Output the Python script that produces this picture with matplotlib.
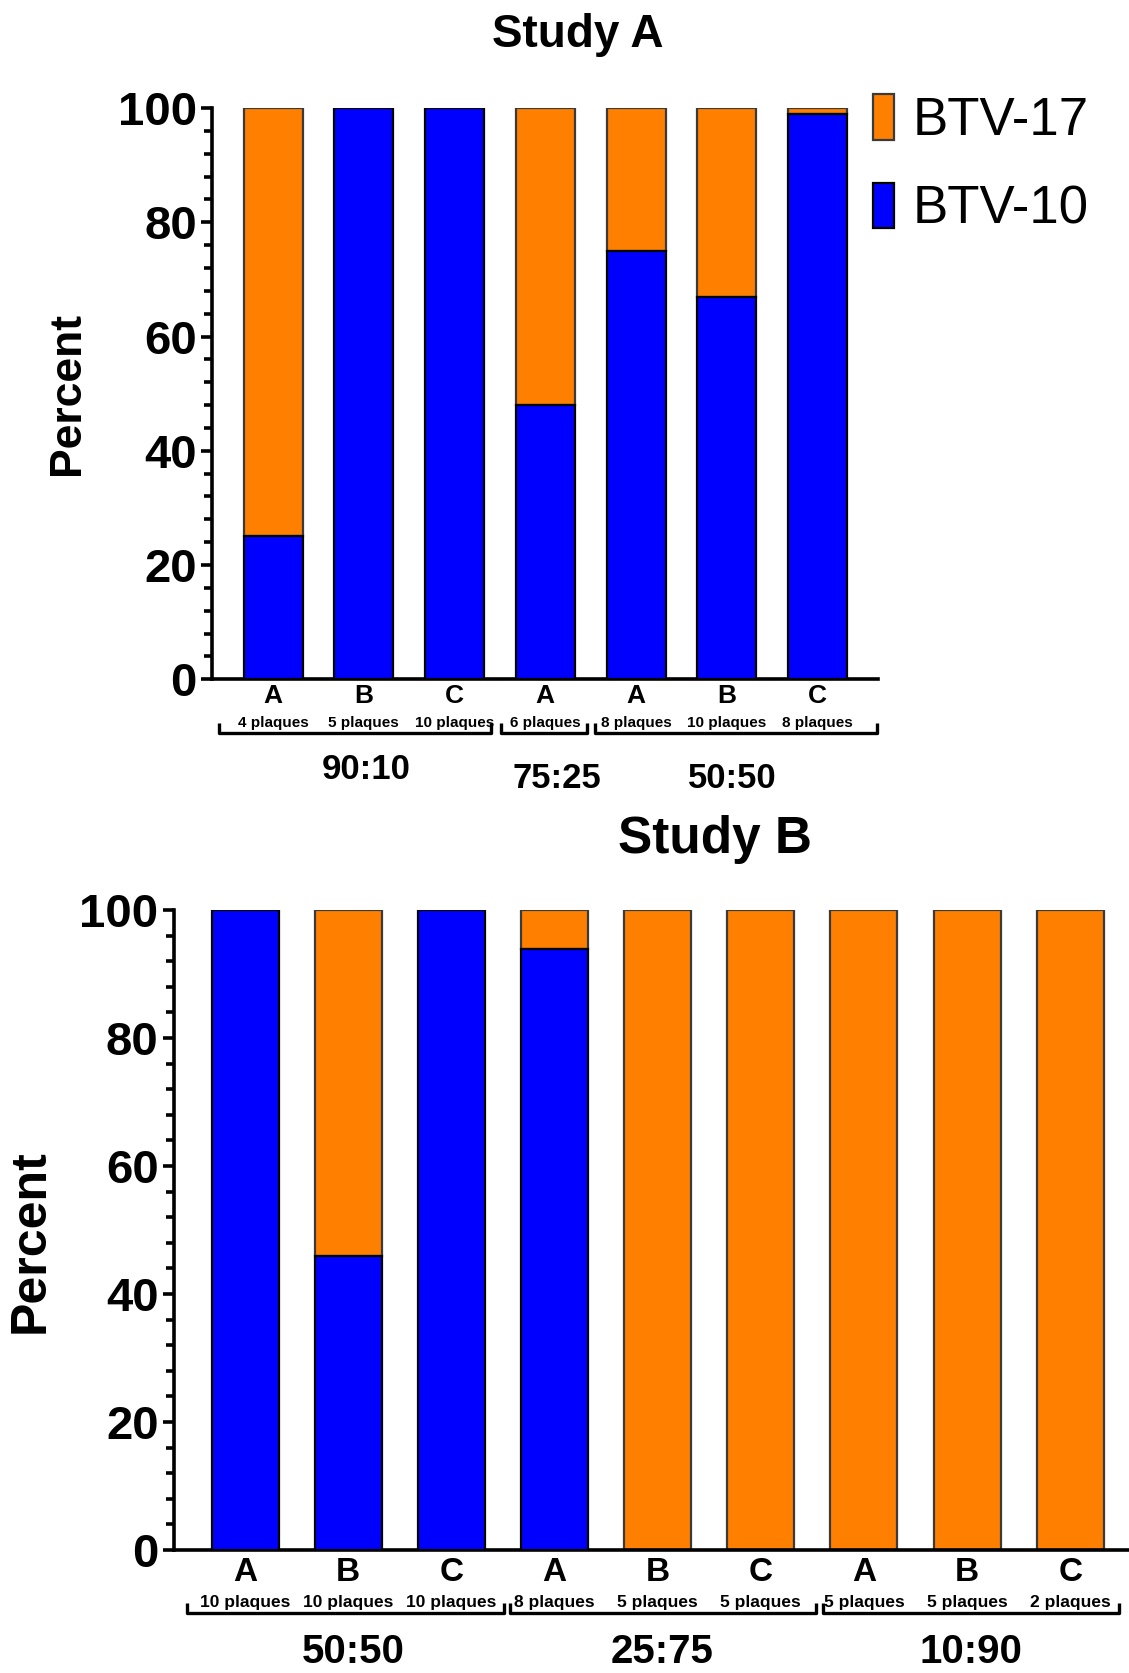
import matplotlib
matplotlib.use('Agg')
import matplotlib.pyplot as plt
from matplotlib.patches import Patch
from matplotlib.ticker import MultipleLocator

# data
a_strains = ['A', 'B', 'C', 'A', 'A', 'B', 'C']
a_plaques = ['4 plaques', '5 plaques', '10 plaques', '6 plaques',
             '8 plaques', '10 plaques', '8 plaques']
a_btv10 = [25, 100, 100, 48, 75, 67, 99]
a_btv17 = [75, 0, 0, 52, 25, 33, 1]
a_groups = ['90:10', '75:25', '50:50']

b_strains = ['A', 'B', 'C', 'A', 'B', 'C', 'A', 'B', 'C']
b_plaques = ['10 plaques', '10 plaques', '10 plaques', '8 plaques', '5 plaques',
             '5 plaques', '5 plaques', '5 plaques', '2 plaques']
b_btv10 = [100, 46, 100, 94, 0, 0, 0, 0, 0]
b_btv17 = [0, 54, 0, 6, 100, 100, 100, 100, 100]
b_groups = ['50:50', '25:75', '10:90']

orange = '#FF8000'
blue = '#0000FF'
bold_font = ['Liberation Sans', 'DejaVu Sans']
narrow_font = ['Liberation Sans Narrow', 'Liberation Sans', 'DejaVu Sans']

fig = plt.figure(figsize=(11.29, 16.73), dpi=100)
ax1 = fig.add_axes([0.188, 0.594, 0.590, 0.3414])
ax2 = fig.add_axes([0.154, 0.0735, 0.846, 0.3825])


def style_axis(ax, tick_size):
    ax.set_ylim(0, 100)
    ax.spines['top'].set_visible(False)
    ax.spines['right'].set_visible(False)
    ax.spines['left'].set_linewidth(2.6)
    ax.spines['bottom'].set_linewidth(2.6)
    ax.yaxis.set_major_locator(MultipleLocator(20))
    ax.yaxis.set_minor_locator(MultipleLocator(4))
    ax.tick_params(axis='y', which='major', length=8, width=2.6, pad=3)
    ax.tick_params(axis='y', which='minor', length=5.5, width=2.6)
    ax.set_xticks([])
    for lab in ax.get_yticklabels():
        lab.set_family(bold_font)
        lab.set_fontweight('bold')
        lab.set_fontsize(tick_size)


def draw_bars(ax, btv10, btv17, width):
    x = list(range(len(btv10)))
    ax.bar(x, btv10, width=width, color=blue, edgecolor='black', linewidth=1.6, zorder=3)
    ax.bar(x, btv17, bottom=btv10, width=width, color=orange, edgecolor='#3a3a3a',
           linewidth=1.6, zorder=2)


def label_groups(ax, strains, plaques, groups, brackets, gx, ys, sizes):
    tr = ax.get_xaxis_transform()
    y_let, y_plq, y_top, y_line, y_grp = ys
    s_let, s_plq, s_grp = sizes
    for i, (s, p) in enumerate(zip(strains, plaques)):
        ax.text(i, y_let, s, transform=tr, ha='center', va='center', fontsize=s_let,
                fontweight='bold', family=narrow_font)
        ax.text(i, y_plq, p, transform=tr, ha='center', va='center', fontsize=s_plq,
                fontweight='bold', family=narrow_font)
    for (x0, x1) in brackets:
        ax.plot([x0, x0, x1, x1], [y_top, y_line, y_line, y_top], transform=tr,
                color='black', lw=2.4, clip_on=False, solid_capstyle='butt')
    for g, xg, yg in zip(groups, gx, y_grp):
        ax.text(xg, yg, g, transform=tr, ha='center', va='center', fontsize=s_grp,
                fontweight='bold', family=narrow_font)


# Study A
draw_bars(ax1, a_btv10, a_btv17, 0.65)
ax1.set_xlim(-0.67, 6.67)
style_axis(ax1, 34)
ax1.set_ylabel('Percent', fontsize=32, fontweight='bold', family=bold_font)
ax1.yaxis.set_label_coords(-0.186, 0.5)
label_groups(ax1, a_strains, a_plaques, a_groups,
             [(-0.6, 2.4), (2.51, 3.46), (3.55, 6.66)], [1.03, 3.13, 5.06],
             (-0.029, -0.077, -0.077, -0.095, [-0.158, -0.174, -0.174]),
             (19, 11, 25))
fig.text(0.512, 0.979, 'Study A', ha='center', va='center', fontsize=33,
         fontweight='bold', family=bold_font)

handles = [Patch(facecolor=orange, edgecolor='#3a3a3a', linewidth=1.6),
           Patch(facecolor=blue, edgecolor='black', linewidth=1.6)]
fig.legend(handles, ['BTV-17', 'BTV-10'], loc='upper left',
           bbox_to_anchor=(0.773, 0.9436), frameon=False,
           prop={'family': bold_font, 'size': 38}, borderpad=0, borderaxespad=0,
           handlelength=0.4, handleheight=0.95, handletextpad=0.35, labelspacing=0.69)

# Study B
draw_bars(ax2, b_btv10, b_btv17, 0.65)
ax2.set_xlim(-0.69, 8.57)
style_axis(ax2, 34)
ax2.set_ylabel('Percent', fontsize=36, fontweight='bold', family=bold_font)
ax2.yaxis.set_label_coords(-0.1255, 0.483)
label_groups(ax2, b_strains, b_plaques, b_groups,
             [(-0.56, 2.51), (2.57, 5.54), (5.6, 8.47)], [1.05, 4.04, 7.04],
             (-0.035, -0.082, -0.083, -0.098, [-0.160, -0.160, -0.160]),
             (24, 12.5, 29))
fig.text(0.633, 0.498, 'Study B', ha='center', va='center', fontsize=37,
         fontweight='bold', family=bold_font)

fig.savefig('out.png', dpi=100)
